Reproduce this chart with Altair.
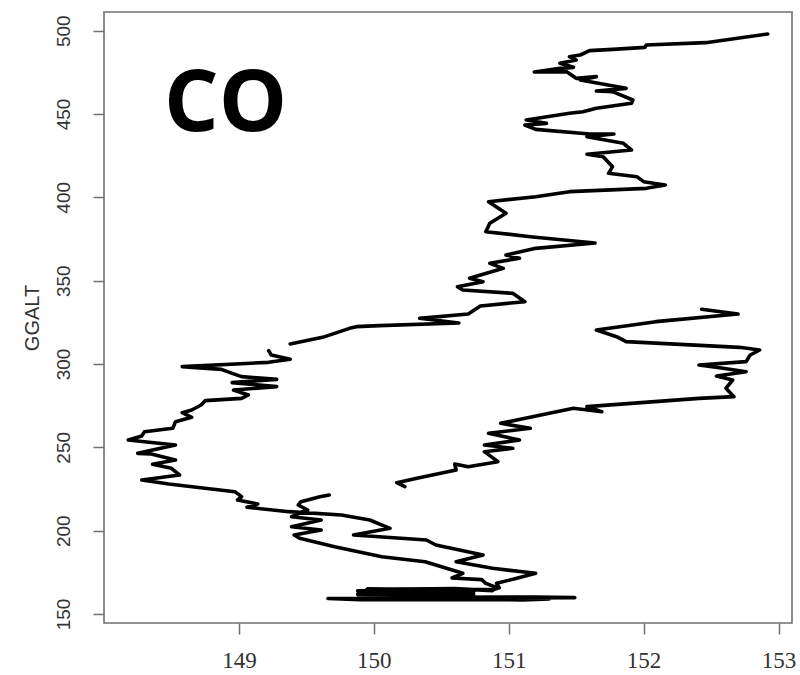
import altair as alt
import pandas as pd

# CO mixing ratio (x) against GPS altitude GGALT (y) for the flight profile,
# split into the separate pieces of the record.

# Upper descent
seg_a_co = [152.92, 152.46, 152.02, 152.01, 151.77, 151.60, 151.53, 151.45, 151.50, 151.38,
            151.48, 151.38, 151.19, 151.43, 151.50, 151.65, 151.53, 151.87, 151.65, 151.77,
            151.92, 151.91, 151.65, 151.55, 151.45, 151.13, 151.28, 151.12, 151.20, 151.60,
            151.78, 151.58, 151.85, 151.91, 151.58, 151.70, 151.77, 151.74, 151.95, 152.00,
            152.16, 152.02, 151.45, 151.20, 150.85, 150.98, 150.86, 150.83, 151.16, 151.64,
            151.20, 150.98, 151.08, 150.86, 150.96, 150.71, 150.81, 150.62, 150.66, 151.03,
            151.12, 150.79, 150.70, 150.34, 150.63, 150.04, 149.87, 149.82, 149.62, 149.38]
seg_a_alt = [498.0, 492.8, 491.4, 490.0, 488.8, 488.0, 485.4, 484.4, 482.4, 480.4,
             478.0, 477.4, 475.2, 475.4, 471.4, 472.4, 470.4, 465.4, 463.8, 463.4,
             458.4, 456.4, 453.4, 451.4, 450.4, 446.4, 444.4, 443.4, 440.8, 438.0,
             438.0, 436.4, 432.4, 428.4, 425.8, 424.4, 418.4, 414.4, 412.4, 409.4,
             407.4, 405.4, 403.4, 400.4, 397.4, 390.4, 384.4, 379.4, 376.4, 372.6,
             369.4, 365.4, 363.4, 360.4, 357.4, 351.4, 349.4, 346.4, 344.4, 342.4,
             337.4, 334.8, 330.0, 327.4, 324.6, 323.0, 322.4, 321.4, 316.0, 312.0]

# Left-hand descent down to the low-level run
seg_b_co = [149.22, 149.24, 149.38, 149.22, 148.58, 148.87, 148.95, 149.02, 149.28, 148.95,
            149.28, 148.96, 149.07, 149.02, 148.75, 148.72, 148.65, 148.58, 148.65, 148.53,
            148.51, 148.30, 148.28, 148.18, 148.30, 148.53, 148.25, 148.35, 148.53, 148.36,
            148.50, 148.56, 148.28, 148.48, 148.97, 149.02, 148.99, 149.14, 149.06, 149.37,
            149.76, 149.97, 150.12, 149.85, 150.39, 150.46, 150.81, 150.61, 150.88, 151.20,
            151.06, 150.91]
seg_b_alt = [308.0, 305.4, 302.8, 301.0, 298.4, 296.8, 294.4, 292.4, 290.8, 288.8,
             286.4, 284.4, 281.4, 279.4, 278.0, 275.4, 272.4, 270.8, 268.0, 265.4,
             261.4, 259.4, 256.8, 254.4, 253.4, 251.4, 246.4, 246.0, 242.4, 239.8,
             237.4, 233.4, 230.4, 228.0, 223.4, 220.4, 218.4, 216.0, 214.0, 211.4,
             209.4, 206.4, 201.4, 197.4, 194.4, 191.4, 185.4, 181.4, 177.4, 174.4,
             171.4, 168.4]

# Low-level back-and-forth run near the surface
band_co = [150.93, 150.88, 149.95, 150.72, 149.88, 150.74, 149.90, 150.70, 149.88, 150.74,
           149.92, 150.72, 149.90, 151.20, 151.49, 150.60, 149.66, 149.90, 151.10, 151.30,
           150.30, 149.88, 150.74, 149.92, 150.72, 149.90, 150.74, 149.92, 150.72, 149.95,
           150.70, 150.10, 150.60, 150.88]
band_alt = [165.8, 164.6, 164.9, 164.3, 163.9, 163.4, 162.9, 162.4, 161.9, 161.4,
            160.9, 160.4, 159.9, 160.2, 159.8, 159.4, 159.3, 158.6, 158.5, 159.0,
            159.2, 159.6, 160.1, 160.6, 161.1, 161.7, 162.2, 162.7, 163.1, 163.7,
            164.2, 164.8, 165.2, 164.0]

# Climb back out from the low-level run
seg_c_co = [150.91, 150.83, 150.80, 150.58, 150.66, 150.38, 150.06, 149.71, 149.45, 149.41,
            149.61, 149.39, 149.61, 149.39, 149.51, 149.44, 149.46, 149.60, 149.67]
seg_c_alt = [166.0, 168.4, 170.6, 171.6, 174.4, 181.4, 184.4, 190.4, 195.4, 197.4,
             200.4, 202.4, 206.4, 208.4, 212.4, 215.4, 217.4, 220.4, 221.4]

# Right-hand climb
seg_d_co = [150.23, 150.17, 150.32, 150.61, 150.60, 150.70, 150.92, 150.82, 151.03, 150.82,
            151.08, 150.85, 151.16, 150.94, 151.06, 151.48, 151.69, 151.58, 152.41, 152.67,
            152.61, 152.66, 152.54, 152.76, 152.59, 152.41, 152.76, 152.79, 152.86, 152.71,
            151.87, 151.80, 151.65, 152.09, 152.70, 152.43]
seg_d_alt = [226.4, 228.8, 231.4, 236.4, 240.0, 238.4, 241.4, 247.4, 249.4, 251.4,
             254.4, 258.4, 261.4, 264.4, 266.4, 273.4, 271.4, 274.4, 279.4, 280.4,
             285.4, 290.4, 292.8, 295.4, 297.4, 299.4, 301.4, 305.4, 308.4, 310.0,
             313.4, 316.4, 320.4, 325.4, 330.0, 332.8]

x_ticks = [149, 150, 151, 152, 153]
y_ticks = [150, 200, 250, 300, 350, 400, 450, 500]

pieces = [
    ("A", seg_a_co, seg_a_alt),
    ("B", seg_b_co + band_co + seg_c_co, seg_b_alt + band_alt + seg_c_alt),
    ("D", seg_d_co, seg_d_alt),
]
rows = []
for name, xs, ys in pieces:
    for i, (xv, yv) in enumerate(zip(xs, ys)):
        rows.append({"piece": name, "idx": i, "CO": xv, "GGALT": yv})
df = pd.DataFrame(rows)

frame = "#707070"
ink = "#333333"

x_enc = alt.X(
    "CO:Q",
    scale=alt.Scale(domain=[148.0, 153.1], nice=False, zero=False),
    axis=alt.Axis(
        values=x_ticks, format="d", title=None, grid=False, domain=False,
        tickSize=11, tickColor=frame, tickWidth=1.5,
        labelFont="Liberation Sans Narrow", labelFontSize=23, labelColor=ink,
        labelPadding=15,
    ),
)
y_enc = alt.Y(
    "GGALT:Q",
    scale=alt.Scale(domain=[144.6, 511.2], nice=False, zero=False),
    axis=alt.Axis(
        values=y_ticks, format="d", title="GGALT", grid=False, domain=False,
        tickSize=11, tickColor=frame, tickWidth=1.5,
        labelFont="Liberation Sans", labelFontSize=19, labelColor=ink,
        labelAngle=270, labelAlign="center", labelBaseline="bottom", labelPadding=20,
        titleFont="Liberation Sans", titleFontSize=20, titleFontWeight="normal",
        titleColor=ink, titleX=-62,
    ),
)

profile = alt.Chart(df).mark_line(
    color="black", strokeWidth=3.6, strokeJoin="round", strokeCap="round"
).encode(
    x=x_enc,
    y=y_enc,
    detail="piece:N",
    order="idx:Q",
)

label = alt.Chart(pd.DataFrame({"t": ["CO"]})).mark_text(
    font="Open Sans", fontWeight="bold", fontSize=86, color="black",
    align="left", baseline="alphabetic",
).encode(
    text="t:N",
    x=alt.value(60),
    y=alt.value(119),
)

chart = alt.layer(profile, label).properties(
    width=688,
    height=611,
    autosize=alt.AutoSizeParams(type="none"),
    padding={"left": 104, "top": 12, "right": 8, "bottom": 52},
    background="white",
).configure_view(stroke=frame, strokeWidth=1.6)

chart.save("out.html", embed_options={"renderer": "svg", "actions": False})
